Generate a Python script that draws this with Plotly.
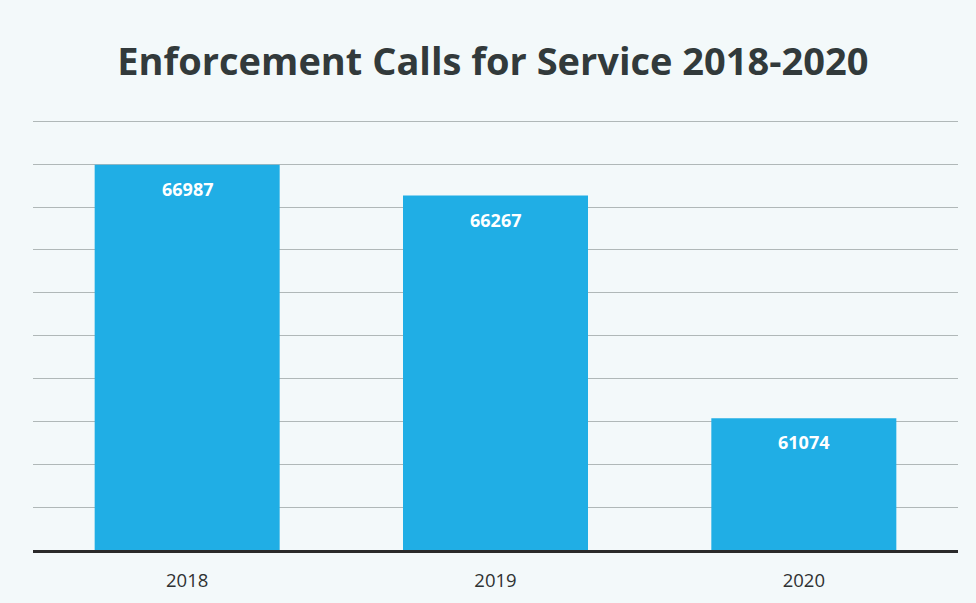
import plotly.graph_objects as go

years = ["2018", "2019", "2020"]
calls = [66987, 66267, 61074]
title_text = "Enforcement Calls for Service 2018-2020"

bar_color = "#20aee5"
bg = "#f3f9fa"

fig = go.Figure()
fig.add_trace(go.Bar(
    x=years, y=calls,
    marker=dict(color=bar_color, line=dict(width=0)),
    hoverinfo="x+y",
))

for i, v in enumerate(calls):
    fig.add_annotation(
        x=i, y=v, text=f"<b>{v}</b>", showarrow=False,
        yshift=-24, font=dict(family="Open Sans", size=18, color="white"),
    )

fig.update_layout(
    width=976, height=603,
    paper_bgcolor=bg, plot_bgcolor=bg,
    margin=dict(l=33, r=18, t=120, b=53),
    bargap=0.4,
    showlegend=False,
    title=dict(
        text=f"<b>{title_text}</b>",
        x=0.505, xanchor="center", y=0.897, yanchor="middle",
        font=dict(family="Open Sans", size=38, color="#323a3b"),
    ),
    xaxis=dict(
        type="category", range=[-0.5, 2.5],
        showgrid=False, showline=True, linecolor="#2a2a2a", linewidth=3,
        ticks="", tickfont=dict(family="Open Sans", size=18.5, color="#2f3232"),
        ticklabelstandoff=12,
    ),
    yaxis=dict(
        range=[58000, 68030], dtick=1000, showticklabels=False,
        showgrid=True, gridcolor="#b0b8b8", gridwidth=1,
        zeroline=False, showline=False,
    ),
)

fig.write_html("out.html", config={"displayModeBar": False},
               post_script="document.body.style.margin='0';")
